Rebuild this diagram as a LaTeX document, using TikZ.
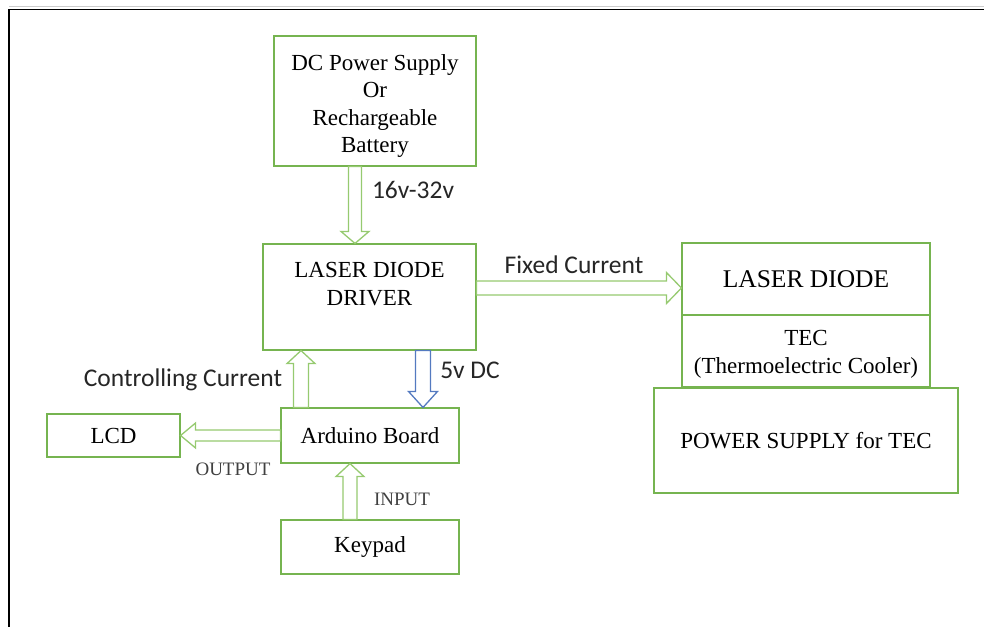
\documentclass[tikz,border=0pt]{standalone}
\usepackage{fontspec}
\setmainfont{Liberation Serif}
\newfontfamily\calibri{Carlito}
\usetikzlibrary{arrows.meta, positioning, calc}
\definecolor{boxGreen}{RGB}{118,180,80}
\definecolor{arrowGreen}{RGB}{150,202,112}
\definecolor{arrowBlue}{RGB}{84,122,192}

\begin{document}
\begin{tikzpicture}[x=1pt, y=-1pt,
  blk/.style={draw=boxGreen, line width=1.1pt, inner sep=0pt, align=center, font=\fontsize{23}{27.5}\selectfont},
  % hollow block arrow: half shaft, half head, head length
  blockarrow/.style n args={3}{draw=arrowGreen, line width=1.3pt, fill=white, line join=miter,
    to path={($(\tikztostart)!#1!90:(\tikztotarget)$) -- ($(\tikztotarget)!#3!(\tikztostart)!#1!-90:(\tikztostart)$)
      -- ($(\tikztotarget)!#3!(\tikztostart)!#2!-90:(\tikztostart)$) -- (\tikztotarget)
      -- ($(\tikztotarget)!#3!(\tikztostart)!#2!90:(\tikztostart)$) -- ($(\tikztotarget)!#3!(\tikztostart)!#1!90:(\tikztostart)$)
      -- ($(\tikztostart)!#1!-90:(\tikztotarget)$) -- cycle}},
  lbl/.style={font=\calibri\fontsize{25.5}{28}\selectfont, text=black!85},
  sml/.style={font=\fontsize{19}{22}\selectfont, text=black!75}]
  \useasboundingbox (0,0) rectangle (984,626);
  % frame, runs off the right and bottom edges
  \draw[gray!40, line width=0.8pt](9,6.5) -- (990,6.5);
  \draw[line width=1.3pt](9,640) -- (9,9.5) -- (990,9.5);
  % boxes
  \node[blk, minimum width=202pt, minimum height=130pt] (dc) at (375,101){\rule{0pt}{26pt}DC Power Supply\\Or\\Rechargeable\\Battery};
  \node[blk, minimum width=213pt, minimum height=106pt, text depth=26pt] (drv) at (369.5,297){LASER DIODE\\DRIVER};
  \node[blk, minimum width=178pt, minimum height=55pt] (ard) at (370,435.5){Arduino Board};
  \node[blk, minimum width=178pt, minimum height=54pt] (key) at (370,547){Keypad};
  \node[blk, minimum width=133pt, minimum height=43pt] (lcd) at (113.5,435.5){LCD};
  \node[blk, minimum width=248pt, minimum height=72pt, font=\fontsize{25.5}{28}\selectfont] (ld) at (806,279){LASER DIODE};
  \node[blk, minimum width=248pt, minimum height=72pt, font=\fontsize{23}{28}\selectfont] (tec) at (806,351){\rule{0pt}{22pt}TEC\\(Thermoelectric Cooler)};
  \node[blk, minimum width=304pt, minimum height=105pt] (ps) at (806,440.5){POWER SUPPLY for TEC};
  % connector ends
  \coordinate (supS) at ([xshift=-20pt]dc.south);
  \coordinate (supT) at (supS |- drv.north);
  \coordinate (fixS) at ([yshift=9pt]drv.east);
  \coordinate (fixT) at (fixS -| ld.west);
  \coordinate (ctlS) at ([xshift=-69pt]ard.north);
  \coordinate (ctlT) at (ctlS |- drv.south);
  \coordinate (dcS) at ([xshift=53.5pt]drv.south);
  \coordinate (dcT) at (dcS |- ard.north);
  \coordinate (outT) at (ard.west -| lcd.east);
  \coordinate (inS) at ([xshift=-20pt]key.north);
  \coordinate (inT) at (inS |- ard.south);
  % connectors
  \draw[blockarrow={6.5pt}{14pt}{12pt}](supS) to (supT);
  \draw[blockarrow={7pt}{15.5pt}{15pt}](fixS) to (fixT);
  \draw[blockarrow={7.5pt}{14pt}{13pt}](ctlS) to (ctlT);
  \draw[blockarrow={7.5pt}{14.5pt}{16pt}, draw=arrowBlue](dcS) to (dcT);
  \draw[blockarrow={5.5pt}{12.5pt}{15pt}](ard.west) to (outT);
  \draw[blockarrow={7pt}{14pt}{13pt}](inS) to (inT);
  % labels
  \node[lbl] (vin) at (413,190){16v-32v};
  \node[lbl] (fix) at (574,265){Fixed Current};
  \node[lbl] (ctl) at (183,380){Controlling Current};
  \node[lbl] (v5) at (470,370){5v DC};
  \node[sml] (out) at (233,469){OUTPUT};
  \node[sml] (in) at (402,499){INPUT};
\end{tikzpicture}
\end{document}
